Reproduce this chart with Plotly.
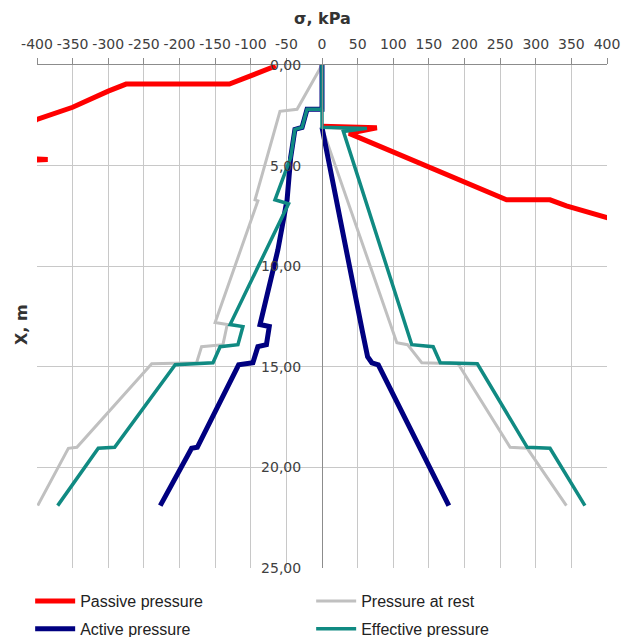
import plotly.graph_objects as go

# ---- data (sigma in kPa, depth X in m) ----
passive_left_x = [-65, -130, -275, -300, -350, -400, -470, -385, -470]
passive_left_y = [0.05, 0.95, 0.95, 1.3, 2.1, 2.7, 4.55, 4.7, 4.85]
passive_right_x = [0, 77, 38, 105, 156, 222, 259, 320, 343, 401, 450]
passive_right_y = [3.05, 3.12, 3.4, 4.4, 5.1, 6.1, 6.7, 6.7, 7.0, 7.6, 8.0]

rest_left_x = [0, -35, -59, -66, -94, -90, -150, -133, -139, -169, -176, -239, -344, -356, -399]
rest_left_y = [0, 2.2, 2.3, 3.2, 6.7, 6.75, 12.8, 12.9, 13.9, 14.0, 14.8, 14.85, 19.0, 19.05, 21.9]
rest_right_x = [0, 105, 120, 140, 191, 264, 288, 343]
rest_right_y = [3.1, 13.8, 13.9, 14.8, 14.85, 19.0, 19.05, 21.9]

active_left_x = [0, 0, -21, -28, -38, -44, -49, -62, -87, -74, -78, -90, -97, -117, -175, -183, -227]
active_left_y = [0, 2.2, 2.2, 3.1, 3.2, 4.6, 6.7, 9.2, 12.9, 13.0, 13.9, 14.0, 14.8, 14.9, 19.0, 19.05, 21.9]
active_right_x = [0, 44, 57, 64, 70, 79, 178]
active_right_y = [3.1, 11.2, 13.3, 14.5, 14.8, 14.9, 21.9]

effective_left_x = [0, 0, -21, -28, -38, -44, -66, -47, -129, -111, -118, -143, -153, -206, -291, -314, -371]
effective_left_y = [0, 2.2, 2.2, 3.1, 3.2, 4.6, 6.7, 6.9, 12.9, 13.0, 13.9, 14.0, 14.8, 14.9, 19.0, 19.05, 21.9]
effective_right_x = [0, 0, 63, 30, 126, 156, 166, 218, 288, 320, 369]
effective_right_y = [2.2, 3.1, 3.15, 3.3, 13.9, 14.0, 14.8, 14.85, 19.0, 19.05, 21.9]

x_ticks = list(range(-400, 401, 50))
x_tick_labels = [str(v) for v in x_ticks]
y_ticks = [0, 5, 10, 15, 20, 25]
y_tick_labels = ["0,00", "5,00", "10,00", "15,00", "20,00", "25,00"]

series = [
    # name, left x, left y, right x, right y, color, width, legend, rank
    ("Pressure at rest", rest_left_x, rest_left_y, rest_right_x, rest_right_y, "#c0c0c0", 3, "legend", 2),
    ("Active pressure", active_left_x, active_left_y, active_right_x, active_right_y, "#000080", 5, "legend2", 1),
    ("Passive pressure", passive_left_x, passive_left_y, passive_right_x, passive_right_y, "#ff0000", 5, "legend", 1),
    ("Effective pressure", effective_left_x, effective_left_y, effective_right_x, effective_right_y, "#108a82", 3.5, "legend2", 2),
]

fig = go.Figure()
for name, lx, ly, rx, ry, color, width, leg, rank in series:
    fig.add_trace(go.Scatter(
        x=lx + [None] + rx, y=ly + [None] + ry, mode="lines", name=name,
        line=dict(color=color, width=width), legend=leg, legendrank=rank,
        connectgaps=False,
    ))

tick_font = dict(family="DejaVu Sans", size=14, color="#404040")
legend_common = dict(orientation="h", x=-0.012, xanchor="left", yanchor="middle",
                     entrywidth=226, entrywidthmode="pixels", itemwidth=40,
                     bgcolor="rgba(0,0,0,0)",
                     font=dict(family="Liberation Sans", size=16, color="#222222"))
fig.update_layout(
    width=622, height=637,
    margin=dict(l=37, r=15, t=65, b=69, autoexpand=False),
    paper_bgcolor="white", plot_bgcolor="white",
    separators=",.",
    showlegend=True,
    xaxis=dict(
        range=[-400, 400], side="top", tickmode="array", tickvals=x_ticks, ticktext=x_tick_labels,
        showgrid=True, gridcolor="#c8c8c8", gridwidth=1, zeroline=False,
        showline=True, linecolor="#8c8c8c", linewidth=1,
        ticks="outside", ticklen=6, tickcolor="#8c8c8c",
        tickfont=tick_font, ticklabelstandoff=3, automargin=False,
    ),
    yaxis=dict(
        range=[25, 0], tickmode="array", tickvals=y_ticks, ticktext=y_tick_labels,
        anchor="free", position=0.5, showgrid=True, gridcolor="#c8c8c8", gridwidth=1,
        zeroline=False, showline=True, linecolor="#8c8c8c", linewidth=1,
        ticks="", tickfont=tick_font, ticklabelstandoff=18, automargin=False,
    ),
    legend=dict(y=-0.066, **legend_common),
    legend2=dict(y=-0.121, **legend_common),
    annotations=[
        dict(text="<b>σ, kPa</b>", x=0.5, y=1 + (65 - 19) / 503, xref="paper", yref="paper",
             xanchor="center", yanchor="middle", showarrow=False,
             font=dict(family="DejaVu Sans", size=16, color="#333333")),
        dict(text="<b>X, m</b>", x=(22 - 37) / 570, y=(568 - 325) / 503, xref="paper", yref="paper",
             xanchor="center", yanchor="middle", showarrow=False, textangle=-90,
             font=dict(family="DejaVu Sans", size=16, color="#333333")),
    ],
)

fig.write_html("out.html", config={"displayModeBar": False},
               post_script="document.body.style.margin='0';")
